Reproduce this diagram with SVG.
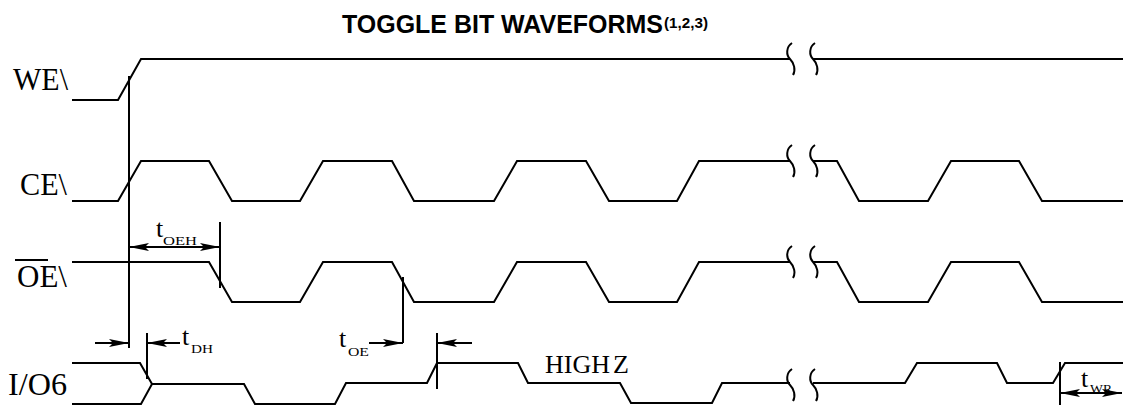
<svg xmlns="http://www.w3.org/2000/svg" width="1123" height="405" viewBox="0 0 1123 405">
<style>
.w{fill:none;stroke:#000;stroke-width:2;stroke-linejoin:miter}
.c{fill:none;stroke:#000;stroke-width:2}
.lbl{font-family:"Liberation Serif","Times New Roman",serif;font-size:31px;fill:#000}
.t{font-family:"Liberation Serif","Times New Roman",serif;font-size:26px;fill:#000}
.s{font-family:"Liberation Serif","Times New Roman",serif;font-size:13px;fill:#000}
.ttl{font-family:"Liberation Sans",Arial,sans-serif;font-weight:bold;fill:#000}
</style>
<defs>
<marker id="ah" viewBox="0 0 20 8" refX="20" refY="4" markerWidth="20" markerHeight="8" markerUnits="userSpaceOnUse" orient="auto-start-reverse">
<path d="M0,0 L20,4 L0,8 L4,4 z" fill="#000"/>
</marker>
<path id="sq" d="M2,-16 C-4,-12 -4,-4 0,0 C4,4 6,11 3,16" fill="none" stroke="#000" stroke-width="2"/>
</defs>
<rect width="1123" height="405" fill="#fff"/>
<g id="title">
<text class="ttl" x="342" y="33" font-size="25" textLength="321" lengthAdjust="spacingAndGlyphs">TOGGLE BIT WAVEFORMS</text>
<text class="ttl" x="664" y="28" font-size="15.5" textLength="44" lengthAdjust="spacingAndGlyphs">(1,2,3)</text>
</g>
<g id="we">
<text class="lbl" x="13" y="90" textLength="55" lengthAdjust="spacingAndGlyphs">WE\</text>
<path class="w" d="M72,100 L118,100 L141,59 L790,59 M813,59 L1123,59"/>
<use href="#sq" x="790" y="59"/><use href="#sq" x="813" y="59"/>
</g>
<g id="ce">
<text class="lbl" x="20" y="195" textLength="47" lengthAdjust="spacingAndGlyphs">CE\</text>
<path class="w" d="M72,201 L118,201 L141,161 L209,161 L232,201 L300,201 L323,161 L392,161 L414,201 L494,201 L517,161 L586,161 L609,201 L677,201 L699,161 L790,161 M813,161 L837,161 L859,201 L928,201 L951,161 L1019,161 L1042,201 L1123,201"/>
<use href="#sq" x="790" y="161"/><use href="#sq" x="813" y="161"/>
</g>
<g id="oe">
<text class="lbl" x="17" y="287" textLength="50" lengthAdjust="spacingAndGlyphs">OE\</text>
<line x1="15" y1="260" x2="48" y2="260" stroke="#000" stroke-width="2"/>
<path class="w" d="M72,262 L209,262 L232,302 L300,302 L323,262 L392,262 L414,302 L494,302 L517,262 L586,262 L609,302 L677,302 L699,262 L790,262 M813,262 L837,262 L859,302 L928,302 L951,262 L1019,262 L1042,302 L1123,302"/>
<use href="#sq" x="790" y="262"/><use href="#sq" x="813" y="262"/>
</g>
<g id="io6">
<text class="lbl" x="8" y="395" textLength="59" lengthAdjust="spacingAndGlyphs">I/O6</text>
<path class="w" d="M72,363 L140,363 L152,384 L244,384 L255,404 L335,404 L346,383 L427,383 L437,363 L518,363 L528,383 L620,383 L631,403 L712,403 L722,383 L790,383 M813,383 L905,383 L917,363 L997,363 L1007,383 L1053,383 L1065,363 L1123,363"/>
<path class="w" d="M72,404 L141,404 L152,384"/>
<use href="#sq" x="790" y="385"/><use href="#sq" x="813" y="385"/>
<text class="t" x="545" y="373" font-size="23">HIGH<tspan dx="3">Z</tspan></text>
</g>
<g id="connectors">
<path class="c" d="M129,76 L129,348"/>
<path class="c" d="M220,222 L220,288"/>
<path class="c" d="M129,247 L220,247" marker-start="url(#ah)" marker-end="url(#ah)"/>
<path class="c" d="M147,333 L147,379"/>
<path class="c" d="M95,343 L129,343" marker-end="url(#ah)"/>
<path class="c" d="M180,343 L147,343" marker-end="url(#ah)"/>
<path class="c" d="M403,277 L403,343"/>
<path class="c" d="M369,343 L403,343" marker-end="url(#ah)"/>
<path class="c" d="M437,333 L437,389"/>
<path class="c" d="M472,343 L437,343" marker-end="url(#ah)"/>
<path class="c" d="M1060,362 L1060,405"/>
<path class="c" d="M1060,393 L1122,393" marker-start="url(#ah)" marker-end="url(#ah)"/>
</g>
<g id="labels">
<text class="t" x="156" y="237">t</text><text class="s" x="163" y="245" textLength="34" lengthAdjust="spacingAndGlyphs">OEH</text>
<text class="t" x="182" y="345">t</text><text class="s" x="191" y="353" textLength="22" lengthAdjust="spacingAndGlyphs">DH</text>
<text class="t" x="339" y="347">t</text><text class="s" x="348" y="356" textLength="21" lengthAdjust="spacingAndGlyphs">OE</text>
<text class="t" x="1081" y="387">t</text><text class="s" x="1090" y="393" textLength="22" lengthAdjust="spacingAndGlyphs">WR</text>
</g>
</svg>
